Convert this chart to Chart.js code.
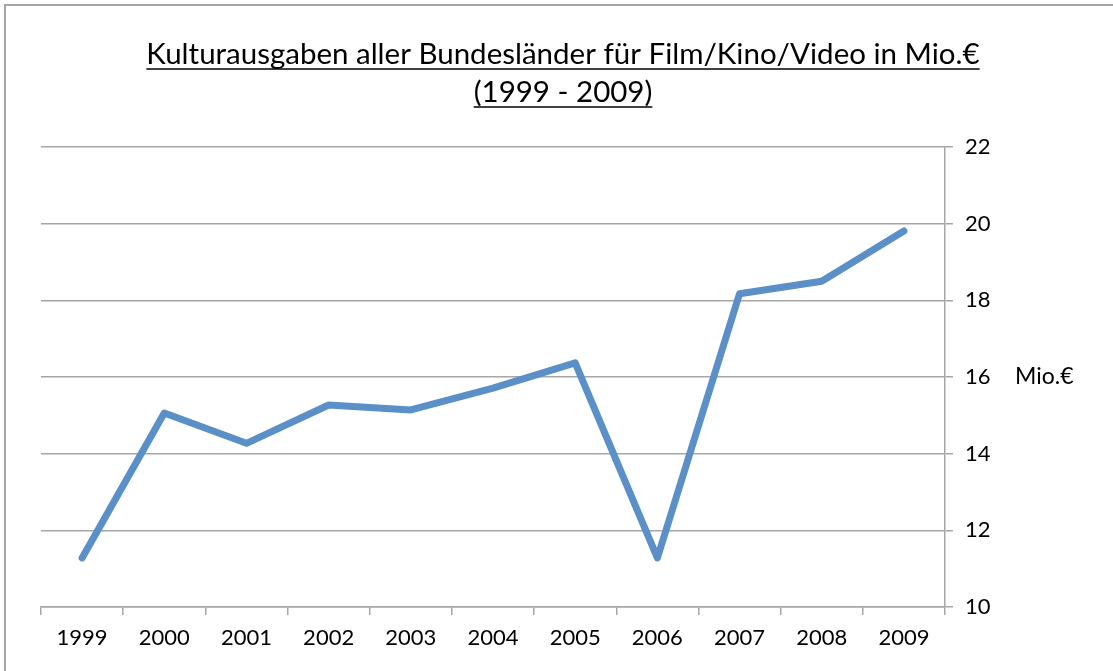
<!DOCTYPE html>
<html>
<head>
<meta charset="utf-8">
<script src="https://cdn.jsdelivr.net/npm/chart.js@4.4.0/dist/chart.umd.min.js"></script>
<style>
  html, body { margin: 0; padding: 0; background: #fff; }
  #wrap { position: relative; width: 1113px; height: 671px; }
</style>
</head>
<body>
<div id="wrap"><canvas id="canvas1" width="1113" height="671"></canvas></div>
<script>
// data
const years = ['1999', '2000', '2001', '2002', '2003', '2004', '2005', '2006', '2007', '2008', '2009'];
const ausgaben = [11.28, 15.06, 14.27, 15.27, 15.14, 15.71, 16.37, 11.28, 18.17, 18.5, 19.81];
const titleLines = ['Kulturausgaben aller Bundesländer für Film/Kino/Video in Mio.€', '(1999 - 2009)'];
const unitLabel = 'Mio.€';
const yMin = 10, yMax = 22, yStep = 2;

const fontFam = 'Lato, "Open Sans", sans-serif';
const gridCol = '#a6a6a6';
const titleSize = 29.5;

// frame + underline title + unit label
const extras = {
  id: 'extras',
  beforeDraw(chart) {
    let ctx = chart.ctx;
    ctx.save();
    ctx.fillStyle = '#fff';
    ctx.fillRect(0, 0, chart.width, chart.height);
    ctx.strokeStyle = gridCol;
    ctx.lineWidth = 2;
    ctx.beginPath();
    ctx.moveTo(5, chart.height);
    ctx.lineTo(5, 5);
    ctx.lineTo(chart.width, 5);
    ctx.stroke();
    ctx.restore();
  },
  afterDraw(chart) {
    let ctx = chart.ctx;
    let opts = chart.options.plugins.title;
    let tb = chart.titleBlock;
    let lh = opts.font.size * opts.font.lineHeight;
    ctx.save();
    ctx.font = opts.font.size + 'px ' + fontFam;
    ctx.strokeStyle = '#000';
    ctx.lineWidth = 1.6;
    let cx = tb.left + tb.width / 2;
    for (let i = 0; i < titleLines.length; i++) {
      let w = ctx.measureText(titleLines[i]).width;
      let y = tb.top + opts.padding.top + lh * (i + 0.5) + 15;
      ctx.beginPath();
      ctx.moveTo(cx - w / 2, y);
      ctx.lineTo(cx + w / 2, y);
      ctx.stroke();
    }
    // Mio.€ next to the 16 tick
    let ys = chart.scales.y;
    ctx.fillStyle = '#000';
    ctx.font = '23px ' + fontFam;
    ctx.textBaseline = 'middle';
    ctx.textAlign = 'left';
    ctx.fillText(unitLabel, 1015, ys.getPixelForValue(16));
    ctx.restore();
  }
};

new Chart(document.getElementById('canvas1'), {
  type: 'line',
  data: {
    labels: years,
    datasets: [{
      data: ausgaben,
      borderColor: '#5a8fc7',
      borderWidth: 7,
      borderCapStyle: 'round',
      borderJoinStyle: 'round',
      pointRadius: 0,
      tension: 0,
      fill: false
    }]
  },
  options: {
    responsive: false,
    animation: false,
    layout: { padding: { left: 41, right: 28, top: 0, bottom: 0 } },
    plugins: {
      legend: { display: false },
      tooltip: { enabled: false },
      title: {
        display: true,
        text: titleLines,
        color: '#000',
        font: { family: fontFam, size: titleSize, weight: 'normal', lineHeight: 38 / titleSize },
        padding: { top: 35, bottom: 36 }
      }
    },
    scales: {
      x: {
        offset: true,
        grid: { display: true, offset: true, drawOnChartArea: false, color: gridCol, lineWidth: 1.5, tickLength: 8 },
        border: { display: true, color: gridCol, width: 1.5 },
        ticks: { color: '#000', font: { family: fontFam, size: 22 }, padding: 10, maxRotation: 0, autoSkip: false },
        afterFit(scale) { scale.height = 64; }
      },
      y: {
        position: 'right',
        min: yMin,
        max: yMax,
        grid: { color: gridCol, lineWidth: 1.5, tickLength: 8 },
        border: { display: true, color: gridCol, width: 1.5 },
        ticks: { stepSize: yStep, color: '#000', font: { family: fontFam, size: 22 }, padding: 12 },
        afterFit(scale) { scale.width = 140; }
      }
    }
  },
  plugins: [extras]
});
</script>
</body>
</html>
